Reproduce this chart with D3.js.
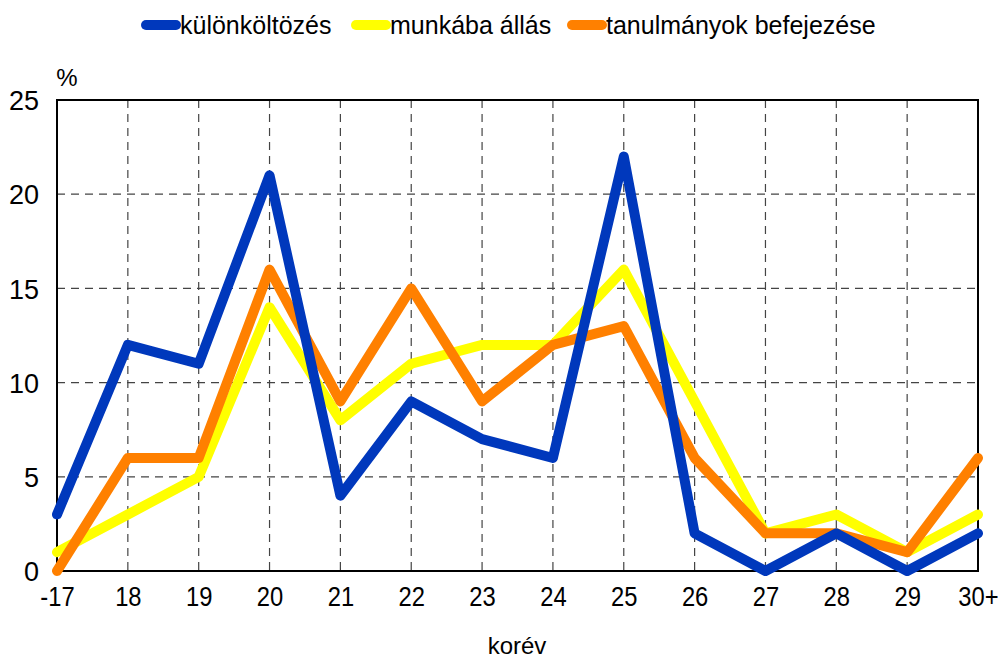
<!DOCTYPE html>
<html>
<head>
<meta charset="utf-8">
<script src="https://cdn.jsdelivr.net/npm/d3@7"></script>
<style>
  body { margin: 0; background: #fff; }
  svg text { font-family: "Liberation Sans Narrow", "Arial Narrow", "Liberation Sans", Arial, sans-serif; fill: #000; }
</style>
</head>
<body>
<svg id="chart" width="998" height="660"></svg>
<script>
"use strict";
// age groups (korév)
var categories = ["-17", "18", "19", "20", "21", "22", "23", "24", "25", "26", "27", "28", "29", "30+"];
var seriesNames = ["különköltözés", "munkába állás", "tanulmányok befejezése"];
var kulonkoltozes = [3, 12, 11, 21, 4, 9, 7, 6, 22, 2, 0, 2, 0, 2];
var munkabaAllas = [1, 3, 5, 14, 8, 11, 12, 12, 16, 9, 2, 3, 1, 3];
var tanulmanyok = [0, 6, 6, 16, 9, 15, 9, 12, 13, 6, 2, 2, 1, 6];
var yTicks = [0, 5, 10, 15, 20, 25];

var colors = ["#0038BC", "#FFFF00", "#FF8000"];
var series = [kulonkoltozes, munkabaAllas, tanulmanyok];

var margin = { left: 57, right: 20, top: 100, bottom: 89 };
var width = 998, height = 660;
var svg = d3.select("#chart");

var x = d3.scalePoint().domain(categories).range([margin.left, width - margin.right]);
var y = d3.scaleLinear().domain([0, 25]).range([height - margin.bottom, margin.top]);

// grid
var grid = svg.append("g");
grid.selectAll(".vgrid").data(categories.slice(1, -1)).enter().append("line")
    .attr("class", "vgrid")
    .attr("x1", function (d) { return x(d); })
    .attr("x2", function (d) { return x(d); })
    .attr("y1", y(25)).attr("y2", y(0))
    .attr("stroke", "#444").attr("stroke-width", 1.2)
    .attr("stroke-dasharray", "8,6");
grid.selectAll(".hgrid").data(yTicks.slice(1, -1)).enter().append("line")
    .attr("class", "hgrid")
    .attr("x1", x.range()[0]).attr("x2", x.range()[1])
    .attr("y1", function (d) { return y(d); })
    .attr("y2", function (d) { return y(d); })
    .attr("stroke", "#444").attr("stroke-width", 1.2)
    .attr("stroke-dasharray", "8,6");

// frame
svg.append("rect")
    .attr("x", x.range()[0]).attr("y", y(25))
    .attr("width", x.range()[1] - x.range()[0])
    .attr("height", y(0) - y(25))
    .attr("fill", "none").attr("stroke", "#000").attr("stroke-width", 2);

// axes
var yAxis = svg.append("g")
    .attr("transform", "translate(" + x.range()[0] + ",0)")
    .call(d3.axisLeft(y).tickValues(yTicks).tickSize(0).tickPadding(18));
yAxis.select(".domain").remove();
yAxis.selectAll("text").style("font-size", "27px").attr("dy", "0.36em");

var xAxis = svg.append("g")
    .attr("transform", "translate(0," + y(0) + ")")
    .call(d3.axisBottom(x).tickSize(0).tickPadding(16));
xAxis.select(".domain").remove();
// the original font is condensed, squeeze the labels a bit
xAxis.selectAll("text").style("font-size", "27px").attr("transform", "scale(0.88,1)");

svg.append("text").attr("x", 67).attr("y", 86)
    .attr("text-anchor", "middle").style("font-size", "24px").text("%");
svg.append("text").attr("x", 517).attr("y", 654)
    .attr("text-anchor", "middle").style("font-size", "24px").text("korév");

// lines (draw yellow, orange, then blue on top)
var line = d3.line()
    .x(function (d, i) { return x(categories[i]); })
    .y(function (d) { return y(d); });
[1, 2, 0].forEach(function (k) {
    svg.append("path")
        .datum(series[k])
        .attr("d", line)
        .attr("fill", "none")
        .attr("stroke", colors[k])
        .attr("stroke-width", 10)
        .attr("stroke-linecap", "round")
        .attr("stroke-linejoin", "round");
});

// legend
var legendX = [146, 356, 572];
var legend = svg.append("g");
seriesNames.forEach(function (name, i) {
    var g = legend.append("g").attr("transform", "translate(" + legendX[i] + ",25)");
    g.append("line").attr("x1", 0).attr("x2", 30).attr("y1", 0).attr("y2", 0)
        .attr("stroke", colors[i]).attr("stroke-width", 10).attr("stroke-linecap", "round");
    g.append("text").attr("x", 34).attr("y", 9).style("font-size", "25px").text(name);
});
</script>
</body>
</html>
